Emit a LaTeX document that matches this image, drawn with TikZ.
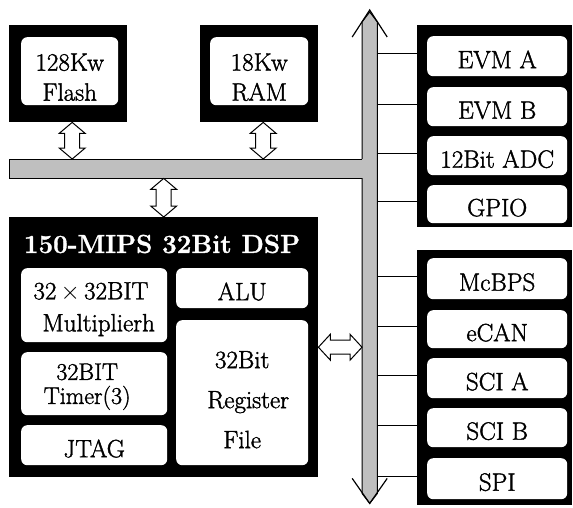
\documentclass[tikz,border=0pt]{standalone}
\usepackage{fontspec}
\setmainfont{Latin Modern Roman}[FakeBold=1.5, BoldFont={Latin Modern Roman/B}, BoldFeatures={FakeBold=1.2}]
\usetikzlibrary{calc}
\newcommand\fnt{\fontsize{25}{30}\selectfont}
\newcommand\vdarrow[2]{\draw[harrow] (#1) -- ++(13,11) -- ++(-5.5,0) -- ($(#2)+(7.5,-11)$) -- ++(5.5,0) -- (#2) -- ++(-13,-11) -- ++(5.5,0) -- ($(#1)+(-7.5,11)$) -- ++(-5.5,0) -- cycle;}
\newcommand\hdarrow[2]{\draw[harrow] (#1) -- ++(12,-13) -- ++(0,6) -- ($(#2)+(-12,-7)$) -- ++(0,-6) -- (#2) -- ++(-12,13) -- ++(0,-6) -- ($(#1)+(12,7)$) -- ++(0,6) -- cycle;}
\begin{document}
\begin{tikzpicture}[x=1pt,y=-1pt,
  blk/.style={fill=black,inner sep=0,anchor=north west},
  inbox/.style={fill=white,rounded corners=6pt,inner sep=0,anchor=north west,align=center,font=\fnt,text height=24pt,text depth=0pt},
  txt/.style={inner sep=0,align=center,font=\fnt},
  busfill/.style={fill=black!25},
  busline/.style={draw=black,line width=1pt},
  harrow/.style={draw=black,fill=white,line width=1pt,line join=miter},
  link/.style={draw=black,line width=1pt},
  chev/.style={draw=black,line width=1.2pt}
]
\path[use as bounding box] (0,0) rectangle (573,507);

% memory blocks
\node[blk,minimum width=118,minimum height=97] (flashO) at (9,25) {};
\node[inbox,minimum width=97,minimum height=68] (flash) at (21,37) {};
\node[txt] (flashT) at ([yshift=-6pt]flash.center) {128Kw\\Flash};
\node[blk,minimum width=118,minimum height=97] (ramO) at (200,25) {};
\node[inbox,minimum width=98,minimum height=68] (ram) at (210,37) {};
\node[txt] (ramT) at ([yshift=-6pt]ram.center) {18Kw\\RAM};

% DSP block
\node[blk,minimum width=309,minimum height=260] (dspO) at (9,217) {};
\node[font=\bfseries\fontsize{26}{30}\selectfont,text=white] (title) at (162,244) {150-MIPS 32Bit DSP};
\node[inbox,minimum width=146,minimum height=74] (mult) at (21,268) {};
\node[txt,align=left,font=\fontsize{25}{32}\selectfont] (multT) at ([yshift=-4pt]mult.center) {32\,$\times$\,32BIT\\ \hspace*{9pt}Multiplierh};
\node[inbox,minimum width=132,minimum height=40] (alu) at (176,268) {ALU};
\node[inbox,minimum width=146,minimum height=63] (timer) at (21,352) {};
\node[txt,font=\fontsize{24}{24}\selectfont] (timerT) at ([xshift=-7pt,yshift=-3pt]timer.center) {32BIT\\Timer(3)};
\node[inbox,minimum width=146,minimum height=40] (jtag) at (21,425) {JTAG};
\node[inbox,minimum width=132,minimum height=145] (reg) at (176,320) {};
\node[txt,font=\fontsize{25}{40}\selectfont] (regT) at ([yshift=-7pt]reg.center) {32Bit\\\hspace*{12pt}Register\\File};

% right blocks
\node[blk,minimum width=155,minimum height=202] (rtO) at (417,25) {};
\node[inbox,minimum width=140,minimum height=40] (evma) at (427,36) {EVM A};
\node[inbox,minimum width=140,minimum height=39] (evmb) at (427,87) {EVM B};
\node[inbox,minimum width=140,minimum height=39] (adc) at (427,136) {12Bit ADC};
\node[inbox,minimum width=140,minimum height=38] (gpio) at (427,185) {GPIO};

\node[blk,minimum width=155,minimum height=255] (rbO) at (417,250) {};
\node[inbox,minimum width=140,minimum height=41] (mcbps) at (427,258) {McBPS};
\node[inbox,minimum width=140,minimum height=38] (ecan) at (427,310) {eCAN};
\node[inbox,minimum width=140,minimum height=40] (scia) at (427,358) {SCI A};
\node[inbox,minimum width=140,minimum height=39] (scib) at (427,408) {SCI B};
\node[inbox,minimum width=140,minimum height=41] (spi) at (427,458) {SPI};

% vertical bus
\node[inner sep=0,minimum width=15,minimum height=471,anchor=north west] (vbus) at (362,22) {};
\path[busfill,busline] (vbus.south west) -- (vbus.north west) -- ($(vbus.north)+(0,-10)$) -- (vbus.north east) -- (vbus.south east) -- ($(vbus.south)+(0,10)$) -- cycle;
\draw[chev] ($(vbus.north)+(-17.5,15)$) -- ($(vbus.north)+(0,-12)$) -- ($(vbus.north)+(17.5,15)$);
\draw[chev] ($(vbus.south)+(-17.5,-15)$) -- ($(vbus.south)+(0,10)$) -- ($(vbus.south)+(17.5,-15)$);

% horizontal bus
\node[inner sep=0,minimum width=354,minimum height=19,anchor=north west] (hbus) at (9,159) {};
\fill[busfill] (hbus.north west) rectangle (hbus.south east);
\draw[busline] (hbus.north west -| vbus.west) -- (hbus.north west) -- (hbus.south west) -- (hbus.south west -| vbus.west);

% bus links to peripherals
\foreach \b/\o in {evma/rtO,evmb/rtO,adc/rtO,gpio/rtO,mcbps/rbO,ecan/rbO,scia/rbO,scib/rbO,spi/rbO}{
  \draw[link] ($(\b.west -| vbus.east)+(0,-2.5)$) -- ($(\b.west -| \o.west)+(0,-2.5)$);
}

% hollow double arrows
\coordinate (a1t) at ([xshift=4pt]flashO.south);
\coordinate (a1b) at (a1t |- hbus.north);
\coordinate (a2t) at ([xshift=4pt]ramO.south);
\coordinate (a2b) at (a2t |- hbus.north);
\coordinate (a3t) at (hbus.south -| dspO.north);
\coordinate (a3b) at (dspO.north);
\coordinate (a4l) at (dspO.east);
\coordinate (a4r) at (dspO.east -| vbus.west);
\vdarrow{a1t}{a1b}
\vdarrow{a2t}{a2b}
\vdarrow{a3t}{a3b}
\hdarrow{a4l}{a4r}
\end{tikzpicture}
\end{document}
